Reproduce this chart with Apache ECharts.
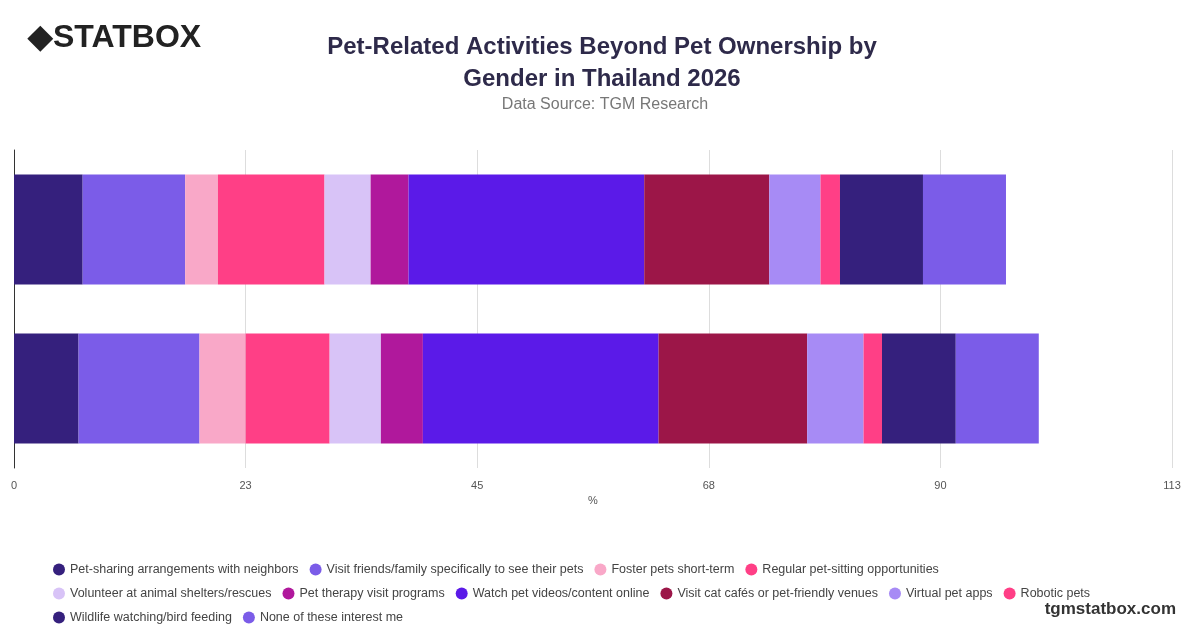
<!DOCTYPE html>
<html>
<head>
<meta charset="utf-8">
<script src="https://cdn.jsdelivr.net/npm/echarts@6/dist/echarts.min.js"></script>
<style>body{margin:0}#main{width:1200px;height:628px}</style>
</head>
<body>
<div id="main"></div>
<script>
// two bars, top first in picture
const genders = ['Male', 'Female'];
const seriesNames = ['Pet-sharing arrangements with neighbors', 'Visit friends/family specifically to see their pets',
  'Foster pets short-term', 'Regular pet-sitting opportunities', 'Volunteer at animal shelters/rescues',
  'Pet therapy visit programs', 'Watch pet videos/content online', 'Visit cat cafés or pet-friendly venues',
  'Virtual pet apps', 'Robotic pets', 'Wildlife watching/bird feeding', 'None of these interest me'];
const maleVals = [6.7, 10.0, 3.2, 10.4, 4.5, 3.7, 23.0, 12.2, 5.0, 1.9, 8.1, 8.1];
const femaleVals = [6.3, 11.8, 4.5, 8.2, 5.0, 4.1, 23.0, 14.5, 5.5, 1.8, 7.2, 8.1];
const colors = ['#35207d', '#7b5ce8', '#f9a8c8', '#ff3f86', '#d8c3f7', '#b0189c',
  '#5b1ae8', '#9c1648', '#a78bf5', '#ff3f86', '#35207d', '#7b5ce8'];

let chart = echarts.init(document.getElementById('main'));
chart.setOption({
  textStyle: { fontFamily: 'Liberation Sans, Arial, sans-serif' },
  title: [{
    text: 'Pet-Related Activities Beyond Pet Ownership by\nGender in Thailand 2026',
    left: 597, top: 26, textAlign: 'center',
    textStyle: { fontSize: 24, fontWeight: 'bold', color: '#2e2a4a', lineHeight: 32 }
  }, {
    text: 'Data Source: TGM Research', left: 600, top: 92, textAlign: 'center',
    textStyle: { fontSize: 16, fontWeight: 'normal', color: '#777' }
  }],
  graphic: [
    { type: 'text', left: 28, top: 22, style: { text: '◆STATBOX', fontSize: 32, fontWeight: 'bold', fill: '#222', fontFamily: 'Liberation Sans' } },
    { type: 'text', right: 24, top: 601, style: { text: 'tgmstatbox.com', fontSize: 17, fontWeight: 'bold', fill: '#333', fontFamily: 'Liberation Sans' } }
  ],
  legend: {
    left: 48, top: 558, width: 1090, itemWidth: 12, itemHeight: 12, icon: 'circle', itemGap: 11,
    textStyle: { fontSize: 12.5, color: '#444' }
  },
  grid: { left: 14, right: 28, top: 150, bottom: 160 },
  xAxis: {
    type: 'value', min: 0, max: 113, interval: 22.6,
    name: '%', nameLocation: 'middle', nameGap: 26, nameTextStyle: { fontSize: 11, color: '#555' },
    axisLabel: { formatter: v => Math.round(v), color: '#555', fontSize: 11, margin: 12 },
    splitLine: { lineStyle: { color: '#ddd' } }
  },
  yAxis: {
    type: 'category', data: genders, inverse: true,
    axisLabel: { show: false }, axisTick: { show: false },
    axisLine: { lineStyle: { color: '#333' } }
  },
  series: seriesNames.map((n, i) => ({
    name: n, type: 'bar', stack: 'all', barWidth: 110,
    itemStyle: { color: colors[i] },
    data: [maleVals[i], femaleVals[i]]
  }))
});
</script>
</body>
</html>
